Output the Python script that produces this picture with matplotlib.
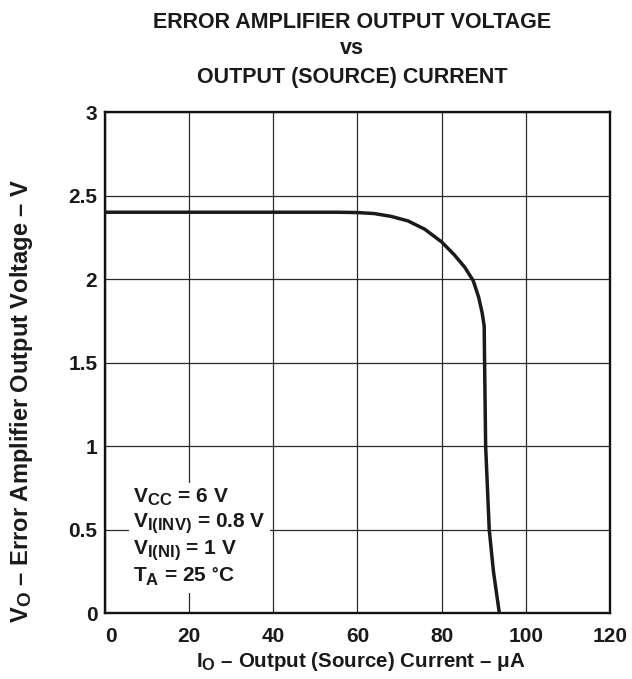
import matplotlib.pyplot as plt
import matplotlib._mathtext as mathtext_impl

plt.rcParams['font.family'] = ['Liberation Sans', 'DejaVu Sans']
plt.rcParams['font.weight'] = 'bold'
plt.rcParams['mathtext.fontset'] = 'custom'
plt.rcParams['mathtext.rm'] = 'Liberation Sans:bold'
plt.rcParams['mathtext.it'] = 'Liberation Sans:bold'
plt.rcParams['mathtext.bf'] = 'Liberation Sans:bold'
# datasheet subscripts are drawn larger than the mathtext default
mathtext_impl.SHRINK_FACTOR = 0.8

# Curve (uA, V)
current_ua = [0, 20, 40, 55, 60, 64, 68, 72, 76, 80, 83, 85.5, 87.5, 88.8,
              89.6, 90.1, 90.2, 90.45, 91.3, 92.3, 93.7]
voltage_v = [2.4, 2.4, 2.4, 2.4, 2.398, 2.392, 2.375, 2.348, 2.298, 2.222,
             2.145, 2.07, 1.99, 1.89, 1.80, 1.72, 1.5, 1.0, 0.5, 0.25, 0.0]

x_ticks = [0, 20, 40, 60, 80, 100, 120]
y_ticks = [0, 0.5, 1, 1.5, 2, 2.5, 3]
y_tick_labels = ['0', '0.5', '1', '1.5', '2', '2.5', '3']

conditions = [r'$\mathregular{V_{CC}}$ = 6 V',
              r'$\mathregular{V_{I(INV)}}$ = 0.8 V',
              r'$\mathregular{V_{I(NI)}}$ = 1 V',
              r'$\mathregular{T_{A}}$ = 25 $\mathregular{^{\circ}}$C']

title_lines = ['ERROR AMPLIFIER OUTPUT VOLTAGE', 'vs', 'OUTPUT (SOURCE) CURRENT']
title_rows = [0.9587, 0.9205, 0.8778]

ink = '#1a1a1a'

fig = plt.figure(figsize=(6.32, 6.79), dpi=100)
ax = fig.add_axes([0.1661, 0.0972, 0.7991, 0.7378])

ax.set_xlim(0, 120)
ax.set_ylim(0, 3)
ax.set_xticks(x_ticks)
ax.set_yticks(y_ticks)
ax.set_yticklabels(y_tick_labels)
ax.tick_params(axis='both', length=0, labelsize=15)
ax.tick_params(axis='x', pad=10)
ax.tick_params(axis='y', pad=5.5)
for lbl in ax.get_xticklabels() + ax.get_yticklabels():
    lbl.set_fontweight('bold')
    lbl.set_color(ink)
# the zero at the corner sits to the right of the frame
ax.get_xticklabels()[0].set_horizontalalignment('left')

ax.grid(True, color='#2a2a2a', linewidth=0.9)
ax.set_axisbelow(True)
for spine in ax.spines.values():
    spine.set_linewidth(1.7)
    spine.set_color('#111111')

ax.plot(current_ua, voltage_v, color=ink, linewidth=2.5,
        solid_joinstyle='round', solid_capstyle='butt', zorder=3)

# test conditions, the white box hides the grid behind them
ax.text(0.0554, 0.2515, '\n'.join(conditions), transform=ax.transAxes,
        fontsize=15, fontweight='bold', va='top', ha='left', color=ink,
        linespacing=1.2, zorder=4,
        bbox=dict(facecolor='white', edgecolor='none', pad=3))

for txt, row in zip(title_lines, title_rows):
    fig.text(0.557, row, txt, ha='center', va='baseline', fontsize=15.5,
             fontweight='bold', color=ink)

fig.text(0.57, 0.0177, r'$\mathregular{I_O}$ – Output (Source) Current – μA',
         ha='center', va='baseline', fontsize=14.8, fontweight='bold',
         color=ink)
fig.text(0.034, 0.41, r'$\mathregular{V_O}$ – Error Amplifier Output Voltage – V',
         ha='center', va='center', rotation=90, fontsize=17,
         fontweight='bold', color=ink)

fig.savefig('out.png', dpi=100)
